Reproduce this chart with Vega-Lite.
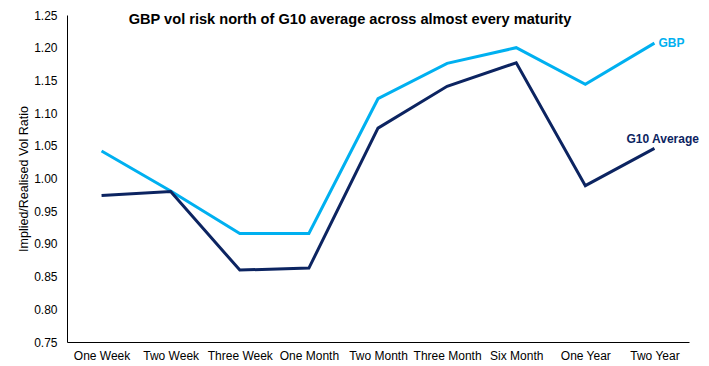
{
  "$schema": "https://vega.github.io/schema/vega-lite/v6.json",
  "width": 622,
  "height": 327,
  "autosize": {"type": "none"},
  "padding": {"left": 67, "top": 15, "right": 20, "bottom": 24},
  "background": "white",
  "config": {
    "font": "Liberation Sans",
    "view": {"stroke": null},
    "axis": {"labelFont": "Liberation Sans", "labelFontSize": 12, "labelColor": "black", "titleFont": "Liberation Sans", "titleFontSize": 12.5, "titleFontWeight": "normal", "titleColor": "black", "domainColor": "black", "domainWidth": 1, "ticks": false, "grid": false, "labelOverlap": false}
  },
  "title": {"text": "GBP vol risk north of G10 average across almost every maturity", "fontSize": 14.6, "fontWeight": "bold", "font": "Liberation Sans", "color": "black", "anchor": "middle", "dx": -28, "offset": -18},
  "data": {"values": [
    {"maturity": "One Week", "series": "GBP", "value": 1.042},
    {"maturity": "Two Week", "series": "GBP", "value": 0.981},
    {"maturity": "Three Week", "series": "GBP", "value": 0.916},
    {"maturity": "One Month", "series": "GBP", "value": 0.916},
    {"maturity": "Two Month", "series": "GBP", "value": 1.122},
    {"maturity": "Three Month", "series": "GBP", "value": 1.176},
    {"maturity": "Six Month", "series": "GBP", "value": 1.200},
    {"maturity": "One Year", "series": "GBP", "value": 1.144},
    {"maturity": "Two Year", "series": "GBP", "value": 1.207},
    {"maturity": "One Week", "series": "G10 Average", "value": 0.974},
    {"maturity": "Two Week", "series": "G10 Average", "value": 0.980},
    {"maturity": "Three Week", "series": "G10 Average", "value": 0.860},
    {"maturity": "One Month", "series": "G10 Average", "value": 0.863},
    {"maturity": "Two Month", "series": "G10 Average", "value": 1.077},
    {"maturity": "Three Month", "series": "G10 Average", "value": 1.141},
    {"maturity": "Six Month", "series": "G10 Average", "value": 1.177},
    {"maturity": "One Year", "series": "G10 Average", "value": 0.989},
    {"maturity": "Two Year", "series": "G10 Average", "value": 1.046}
  ]},
  "encoding": {
    "x": {"field": "maturity", "type": "ordinal", "sort": null, "scale": {"type": "point", "padding": 0.5}, "axis": {"title": null, "labelAngle": 0, "labelPadding": 8}},
    "y": {"field": "value", "type": "quantitative", "scale": {"domain": [0.75, 1.25], "nice": false, "zero": false}, "axis": {"title": "Implied/Realised Vol Ratio", "format": ".2f", "values": [0.75, 0.8, 0.85, 0.9, 0.95, 1.0, 1.05, 1.1, 1.15, 1.2, 1.25], "labelPadding": 10, "titleX": -37}},
    "color": {"field": "series", "type": "nominal", "scale": {"domain": ["GBP", "G10 Average"], "range": ["#00B0F0", "#0C2461"]}, "legend": null}
  },
  "layer": [
    {"mark": {"type": "line", "strokeWidth": 3, "strokeJoin": "miter"}, "encoding": {"detail": {"field": "series"}}},
    {"transform": [{"filter": "datum.maturity == 'Two Year' && datum.series == 'GBP'"}], "mark": {"type": "text", "align": "left", "baseline": "middle", "dx": 4, "dy": 0, "fontWeight": "bold", "fontSize": 12}, "encoding": {"text": {"field": "series"}}},
    {"transform": [{"filter": "datum.maturity == 'Two Year' && datum.series == 'G10 Average'"}], "mark": {"type": "text", "align": "left", "baseline": "middle", "dx": -28, "dy": -9, "fontWeight": "bold", "fontSize": 12}, "encoding": {"text": {"field": "series"}}}
  ]
}
